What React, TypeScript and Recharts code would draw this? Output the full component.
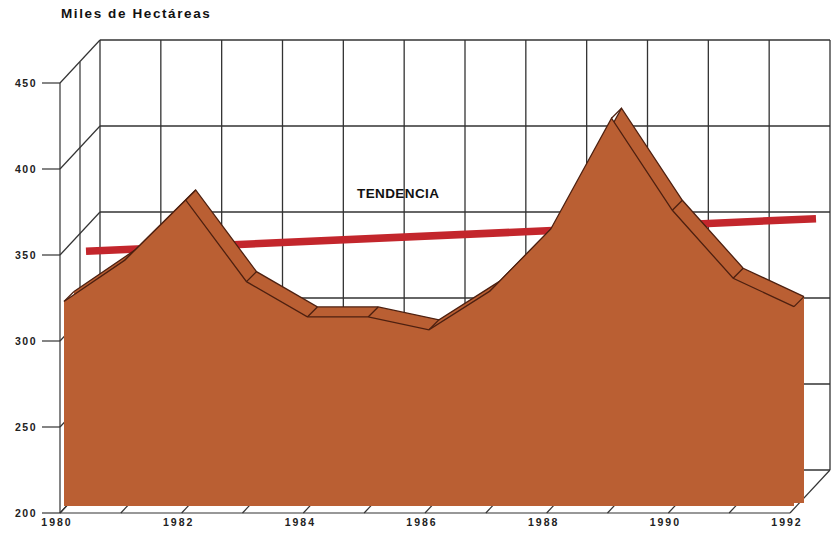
import React from 'react';
import { ComposedChart, Area, Line, XAxis, YAxis, CartesianGrid } from 'recharts';

// superficie (miles de hectáreas) por año
const YEARS = [1980, 1981, 1982, 1983, 1984, 1985, 1986, 1987, 1988, 1989, 1990, 1991, 1992];
const HECTAREAS = [323, 347, 382, 334.5, 314, 314, 306.5, 329, 365, 429.5, 376, 336.5, 320];

// recta de tendencia
const TREND_YEARS = [1980, 1992];
const TREND_VALUES = [337, 356];

const Y_TICKS = [200, 250, 300, 350, 400, 450];
const X_LABELS = [1980, 1982, 1984, 1986, 1988, 1990, 1992];

const W = 834;
const H = 535;
const MARGIN = { top: 83, right: 44, left: 60, bottom: 22 };
const DEPTH_X = 40;
const DEPTH_Y = 43;

const GRID = '#333333';
const FILL = '#BA5F33';
const EDGE = '#4d2010';
const RED = '#C3262C';
const FONT = '"Liberation Sans", Arial, Helvetica, sans-serif';

const areaData = YEARS.map((year, i) => ({ year, value: HECTAREAS[i] }));
const trendData = TREND_YEARS.map((year, i) => ({ year, value: TREND_VALUES[i] }));

const YTick = (props: any) => {
  const { x, y, payload } = props;
  return (
    <g>
      <line x1={x} y1={y} x2={x + DEPTH_X} y2={y - DEPTH_Y} stroke={GRID} strokeWidth={1.2} />
      <line x1={x - 18} y1={y} x2={x} y2={y} stroke={GRID} strokeWidth={1.2} />
      <text x={x - 23} y={y + 4} textAnchor="end" fontFamily={FONT} fontWeight="bold" fontSize={10.5} letterSpacing={1.5} fill="#222">
        {payload.value}
      </text>
    </g>
  );
};

const XTick = (props: any) => {
  const { x, y, payload } = props;
  const showLabel = X_LABELS.includes(payload.value);
  return (
    <g>
      <line x1={x} y1={y} x2={x + DEPTH_X} y2={y - DEPTH_Y} stroke={GRID} strokeWidth={1.2} />
      {showLabel && (
        <text x={x - 3} y={y + 13} textAnchor="middle" fontFamily={FONT} fontWeight="bold" fontSize={10.5} letterSpacing={2} fill="#222">
          {payload.value}
        </text>
      )}
    </g>
  );
};

const RidgeJoint = (props: any) => {
  const { cx, cy, index } = props;
  if (cx == null || cy == null) return <g key={`j-${index}`} />;
  return <line key={`j-${index}`} x1={cx - 10} y1={cy + 10} x2={cx} y2={cy} stroke={EDGE} strokeWidth={1.3} />;
};

const Layer = ({ dx, dy, data, children }: any) => (
  <div style={{ position: 'absolute', left: dx, top: dy }}>
    <ComposedChart width={W} height={H} data={data} margin={MARGIN}>
      <XAxis type="number" dataKey="year" domain={[1980, 1992]} ticks={YEARS} hide />
      <YAxis type="number" dataKey="value" domain={[200, 450]} ticks={Y_TICKS} hide />
      {children}
    </ComposedChart>
  </div>
);

export default function App() {
  return (
    <div style={{ position: 'absolute', left: 0, top: 0, width: W, height: H, overflow: 'hidden', background: '#fff' }}>
      {/* pared del fondo */}
      <Layer dx={DEPTH_X} dy={-DEPTH_Y} data={areaData}>
        <CartesianGrid stroke={GRID} strokeWidth={1.3} fill="none" />
      </Layer>

      {/* línea intermedia de la pared izquierda */}
      <div style={{ position: 'absolute', left: 20, top: -21 }}>
        <ComposedChart width={W} height={H} data={areaData} margin={{ ...MARGIN, left: 0 }}>
          <XAxis type="number" dataKey="year" domain={[1980, 1992]} ticks={YEARS} hide />
          <YAxis type="number" dataKey="value" domain={[200, 450]} ticks={Y_TICKS} width={60} tick={false} tickLine={false} axisLine={{ stroke: GRID, strokeWidth: 1.2 }} />
        </ComposedChart>
      </div>

      {/* ejes frontales, pared izquierda y suelo */}
      <div style={{ position: 'absolute', left: 0, top: 0 }}>
        <ComposedChart width={W} height={H} data={areaData} margin={{ top: 83, right: 44, left: 0, bottom: 0 }}>
          <XAxis
            type="number"
            dataKey="year"
            domain={[1980, 1992]}
            ticks={YEARS}
            interval={0}
            height={22}
            tickSize={0}
            tickMargin={0}
            tick={<XTick />}
            axisLine={{ stroke: GRID, strokeWidth: 1.2 }}
          />
          <YAxis
            type="number"
            dataKey="value"
            domain={[200, 450]}
            ticks={Y_TICKS}
            interval={0}
            width={60}
            tickSize={0}
            tickMargin={0}
            tick={<YTick />}
            axisLine={{ stroke: GRID, strokeWidth: 1.2 }}
          />
        </ComposedChart>
      </div>

      {/* tendencia */}
      <Layer dx={26} dy={-26} data={trendData}>
        <Line dataKey="value" stroke={RED} strokeWidth={7.5} strokeLinecap="butt" dot={false} activeDot={false} isAnimationActive={false} />
      </Layer>

      {/* cara superior (profundidad) del área */}
      <Layer dx={14} dy={-10} data={areaData}>
        <Area
          type="linear"
          dataKey="value"
          baseValue={200}
          fill={FILL}
          fillOpacity={1}
          stroke={EDGE}
          strokeWidth={1.3}
          dot={RidgeJoint}
          activeDot={false}
          isAnimationActive={false}
        />
      </Layer>

      {/* cara frontal del área */}
      <Layer dx={4} dy={0} data={areaData}>
        <Area
          type="linear"
          dataKey="value"
          baseValue={204}
          fill={FILL}
          fillOpacity={1}
          stroke={EDGE}
          strokeWidth={1.3}
          dot={false}
          activeDot={false}
          isAnimationActive={false}
        />
      </Layer>

      <div style={{ position: 'absolute', left: 61, top: 7, fontFamily: FONT, fontWeight: 'bold', fontSize: 13.5, letterSpacing: 1.6, lineHeight: 1, color: '#111' }}>
        Miles de Hectáreas
      </div>
      <div style={{ position: 'absolute', left: 357, top: 187, fontFamily: FONT, fontWeight: 'bold', fontSize: 13.5, letterSpacing: 0.4, lineHeight: 1, color: '#111' }}>
        TENDENCIA
      </div>
    </div>
  );
}
